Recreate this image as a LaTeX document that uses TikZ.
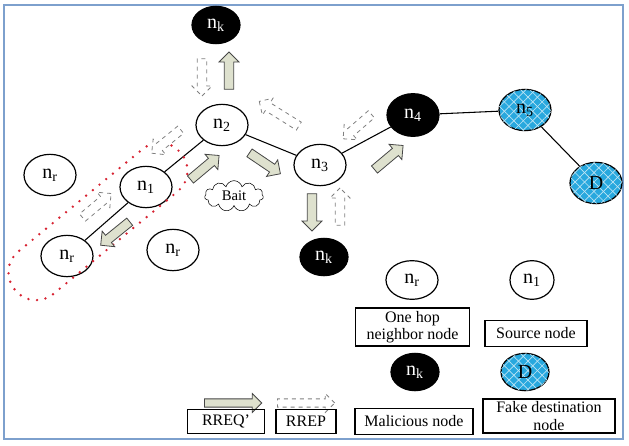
\documentclass[tikz,border=0pt]{standalone}
\usepackage{fontspec}
\setmainfont{Liberation Serif}
\usetikzlibrary{shapes.geometric,shapes.arrows,shapes.symbols,patterns.meta}
\definecolor{framebl}{RGB}{125,160,205}
\definecolor{fakebl}{RGB}{40,168,222}
\definecolor{reqfill}{RGB}{222,225,206}
\definecolor{dotred}{RGB}{215,35,50}

\begin{document}
\begin{tikzpicture}[x=0.75pt,y=-0.75pt]
  \tikzstyle{nd}=[ellipse, draw, line width=0.9pt, minimum width=39pt, minimum height=31pt, inner sep=0pt, font=\fontsize{15}{15}\selectfont]
  \tikzstyle{mal}=[nd, fill=black, text=white, minimum width=36pt, minimum height=28pt]
  \tikzstyle{fake}=[nd, fill=fakebl,
    postaction={pattern={Lines[angle=45,distance=5pt,line width=0.5pt]}, pattern color=white!70!fakebl},
    postaction={pattern={Lines[angle=-45,distance=5pt,line width=0.5pt]}, pattern color=white!70!fakebl}]
  \tikzstyle{req}=[single arrow, draw=gray!55!black, fill=reqfill, line width=0.6pt, inner sep=3.2pt,
    minimum width=0pt, single arrow head extend=4pt, minimum height=28pt]
  \tikzstyle{rep}=[req, fill=white, draw=gray, dashed]
  \tikzstyle{lbl}=[draw, line width=0.9pt, inner sep=0pt, align=center, font=\fontsize{12}{13}\selectfont]

  \useasboundingbox (0,0) rectangle (629,446);
  \draw[framebl, line width=1.4pt] (4,5) rectangle (623,439);

  % nodes of the route
  \path (216,25) node[mal] (nkA) {n\textsubscript{k}};
  \path (222,125) node[nd] (n2) {n\textsubscript{2}};
  \path (320,165) node[nd] (n3) {n\textsubscript{3}};
  \path (413,115) node[mal, minimum width=39pt, minimum height=32pt] (n4) {n\textsubscript{4}};
  \path (525,110) node[fake] (n5) {n\textsubscript{5}};
  \path (596,183) node[fake] (D) {D};
  \path (146,187) node[nd] (n1) {n\textsubscript{1}};
  \path (324,257) node[mal] (nkB) {n\textsubscript{k}};
  \foreach \name/\x/\y in {nrA/50/175, nrB/67/256, nrC/173/250}
  {
    \path (\x,\y) node[nd] (\name) {n\textsubscript{r}};
  }
  \path (234,196) node[cloud, draw, cloud puffs=11, aspect=2, minimum width=44pt, minimum height=23pt,
    inner sep=0pt, font=\fontsize{11}{11}\selectfont] (bait) {Bait};

  \draw[line width=0.8pt]
    (n1) -- (nrB)
    (n1) -- (n2)
    (n2) -- (n3)
    (n3) -- (n4)
    (n4) -- (n5)
    (n5) -- (D);

  \draw[dotred, line width=2pt, dash pattern=on 0pt off 6.5pt, line cap=round, rounded corners=20pt,
    rotate around={39.5:(98,221.5)}] (-9.5,194) rectangle (205.5,249);

  % RREQ' and RREP arrows
  \foreach \i/\x/\y/\ang in {1/229/73/90, 2/203/169/40, 3/263/162/-34, 4/117/232/219, 5/312/210/-90, 6/387/159/40}
  {
    \path (\x,\y) node[req, rotate=\ang] (req\i) {};
  }
  \foreach \i/\x/\y/\ang in {1/202/75/-90, 2/168/140/219, 3/95/207/40, 4/340/209/90, 5/359/125/221}
  {
    \path (\x,\y) node[rep, rotate=\ang] (rep\i) {};
  }
  \path (281,115) node[rep, rotate=148, minimum height=35pt] (rep6) {};

  % legend
  \path (412,280) node[nd, minimum height=29pt] (lnr) {n\textsubscript{r}};
  \path (532,280) node[nd, minimum width=33pt, minimum height=29pt] (ln1) {n\textsubscript{1}};
  \path (415,372) node[mal] (lnk) {n\textsubscript{k}};
  \path (525,372) node[fake, minimum width=36pt, minimum height=28pt] (lD) {D};
  \path (231,403) node[req, inner sep=2.8pt, minimum height=43pt] (lreq) {};
  \path (304,403) node[rep, inner sep=2.8pt, minimum height=43pt] (lrep) {};

  \path (412.5,327) node[lbl, minimum width=85pt, minimum height=28.5pt] (tHop) {One hop\\neighbor node};
  \path (536,333.5) node[lbl, minimum width=76.5pt, minimum height=19pt] (tSrc) {Source node};
  \path (226,421.5) node[lbl, minimum width=58pt, minimum height=18pt] (tReq) {RREQ'};
  \path (306,421.5) node[lbl, minimum width=45pt, minimum height=18pt] (tRep) {RREP};
  \path (414,421.5) node[lbl, minimum width=88.5pt, minimum height=19pt] (tMal) {Malicious node};
  \path (549,416) node[lbl, minimum width=99pt, minimum height=25.5pt] (tFake) {Fake destination\\node};
\end{tikzpicture}
\end{document}
